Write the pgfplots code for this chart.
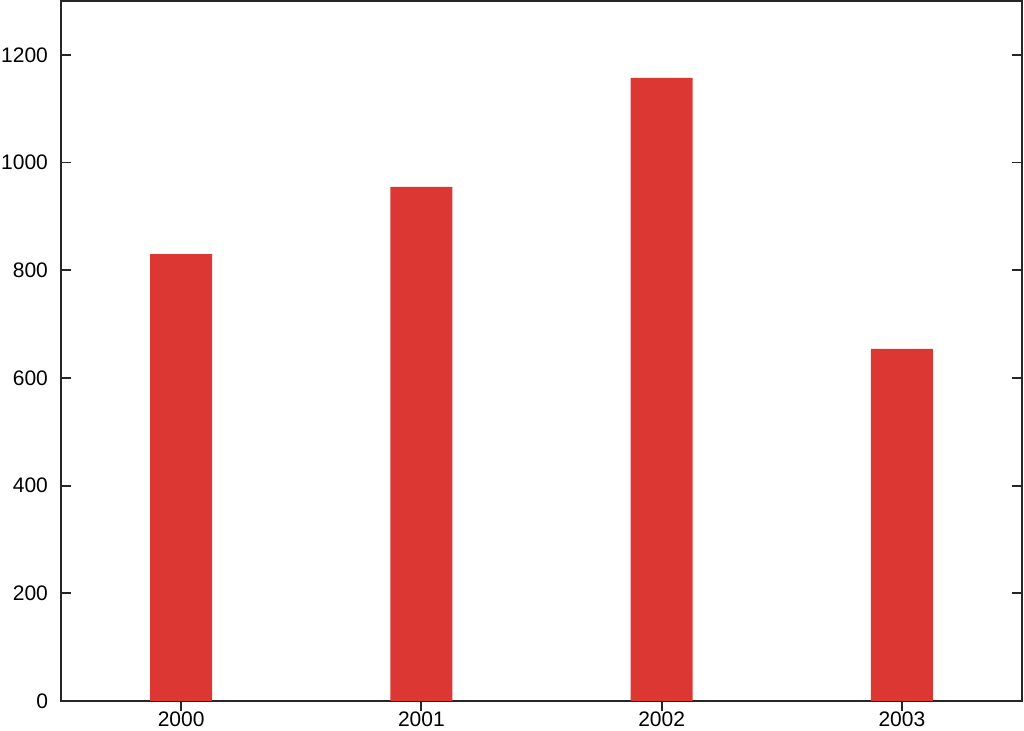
\documentclass[border=0pt]{standalone}
\usepackage{pgfplots}
\pgfplotsset{compat=1.18}
\usepackage{fontspec}
\setmainfont{Liberation Sans}
\definecolor{barred}{RGB}{220,55,50}
\begin{document}
\begin{tikzpicture}[font=\fontsize{10.5}{12}\selectfont]
\begin{axis}[
  scale only axis,
  width=480.5pt, height=350pt,
  xmin=-0.5, xmax=3.5,
  ymin=0, ymax=1300,
  xtick={0,1,2,3},
  xticklabels={2000,2001,2002,2003},
  ytick={0,200,400,600,800,1000,1200},
  tick align=inside,
  major tick length=5pt,
  axis line style={line width=0.9pt, black!85},
  every tick/.style={line width=0.9pt, black!85},
  /pgf/number format/assume math mode=true,
  /pgf/number format/1000 sep={},
  tick label style={font=\fontsize{10.5}{12}\selectfont},
  yticklabel style={xshift=-3pt},
  xticklabel style={yshift=3pt},
  ybar, bar width=31pt,
]
\addplot[fill=barred, draw=none] coordinates {(0,830) (1,955) (2,1157) (3,654)};
\end{axis}
\pgfresetboundingbox
\useasboundingbox ([xshift=-30.5pt,yshift=-15pt]current axis.south west) rectangle ([xshift=1pt,yshift=0.5pt]current axis.north east);
\end{tikzpicture}
\end{document}
